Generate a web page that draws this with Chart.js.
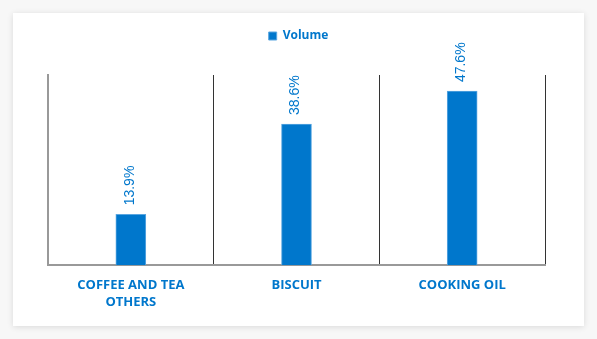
<!DOCTYPE html>
<html>
<head>
<meta charset="utf-8">
<script src="https://cdn.jsdelivr.net/npm/chart.js@4"></script>
<style>
  html, body { margin: 0; padding: 0; background: #f7f7f7; }
  .card {
    position: absolute;
    left: 13px;
    top: 13px;
    width: 571px;
    height: 313px;
    background: #fff;
    box-shadow: 0 1px 6px rgba(0, 0, 0, 0.12);
  }
  .card canvas { display: block; }
</style>
</head>
<body>
<div class="card"><canvas id="chart" width="571" height="313"></canvas></div>
<script>
const categories = [["COFFEE AND TEA", "OTHERS"], "BISCUIT", "COOKING OIL"];
const volume = [13.9, 38.6, 47.6];
const seriesName = "Volume";

const BLUE = "#0077cc";

// rotated value labels above each bar
const barLabels = {
  id: "barLabels",
  afterDatasetsDraw(chart) {
    const ctx = chart.ctx;
    const meta = chart.getDatasetMeta(0);
    ctx.save();
    ctx.fillStyle = BLUE;
    ctx.font = "14px 'Liberation Sans', Arial, sans-serif";
    ctx.textAlign = "left";
    ctx.textBaseline = "middle";
    meta.data.forEach((bar, i) => {
      ctx.save();
      ctx.translate(bar.x - 1, bar.y - 9);
      ctx.rotate(-Math.PI / 2);
      ctx.fillText(volume[i].toFixed(1) + "%", 0, 0);
      ctx.restore();
    });
    ctx.restore();
  },
};

// extra room under the legend
const legendMargin = {
  id: "legendMargin",
  beforeInit(chart) {
    const fit = chart.legend.fit;
    chart.legend.fit = function () {
      fit.bind(chart.legend)();
      this.height += 23;
    };
  },
};

new Chart(document.getElementById("chart"), {
  type: "bar",
  data: {
    labels: categories,
    datasets: [
      {
        label: seriesName,
        data: volume,
        backgroundColor: BLUE,
        borderColor: "#5aa6e0",
        borderWidth: 1,
        barThickness: 30,
      },
    ],
  },
  options: {
    responsive: false,
    animation: false,
    layout: { padding: { left: 0, right: 0, top: 7, bottom: 3 } },
    plugins: {
      legend: {
        labels: {
          color: BLUE,
          boxWidth: 8,
          boxHeight: 8,
          padding: 10,
          font: { family: "'Open Sans', sans-serif", size: 12, weight: "bold" },
        },
      },
      tooltip: { enabled: false },
    },
    scales: {
      x: {
        grid: {
          offset: true,
          drawTicks: false,
          color: (ctx) => (ctx.index === 0 ? "rgba(0,0,0,0)" : "#333"),
          lineWidth: 1,
        },
        border: { color: "#999", width: 2 },
        ticks: {
          color: BLUE,
          padding: 12,
          maxRotation: 0,
          font: { family: "'Open Sans', sans-serif", size: 13, weight: "bold", lineHeight: 1.3 },
        },
      },
      y: {
        min: 0,
        max: 52,
        grid: { display: false },
        border: { color: "#999", width: 2 },
        ticks: { display: false },
        afterFit: (scale) => { scale.width = 35; },
      },
      yRight: {
        position: "right",
        min: 0,
        max: 52,
        grid: { display: false },
        border: { display: false },
        ticks: { display: false },
        afterFit: (scale) => { scale.width = 39; },
      },
    },
  },
  plugins: [barLabels, legendMargin],
});
</script>
</body>
</html>
